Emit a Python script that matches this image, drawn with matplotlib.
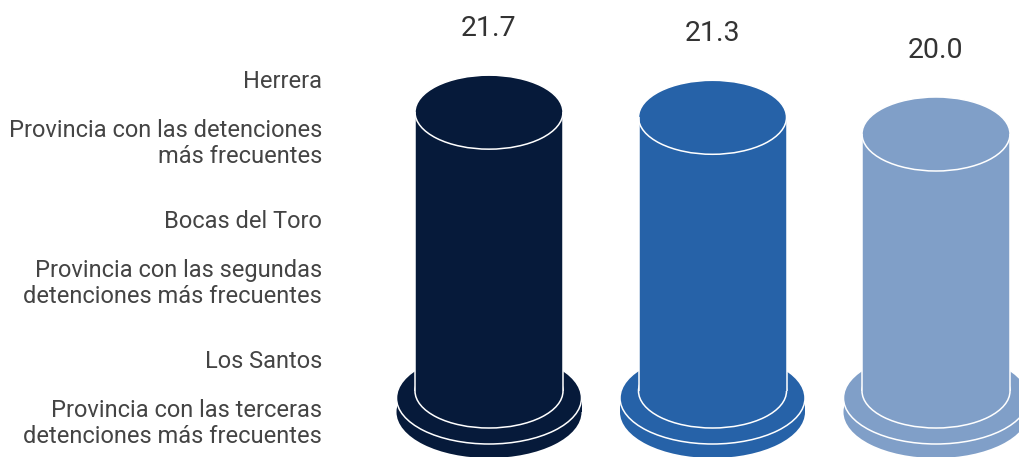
import matplotlib.pyplot as plt
from matplotlib.patches import Ellipse, Rectangle

plt.rcParams['font.family'] = ['Roboto', 'DejaVu Sans']

# datos
valores = [21.7, 21.3, 20.0]
colores = ['#061a3a', '#2662a8', '#809fc8']
provincias = ['Herrera', 'Bocas del Toro', 'Los Santos']
descripciones = [
    'Provincia con las detenciones\nmás frecuentes',
    'Provincia con las segundas\ndetenciones más frecuentes',
    'Provincia con las terceras\ndetenciones más frecuentes',
]

W, H = 1019, 457
fig = plt.figure(figsize=(W / 100, H / 100), dpi=100)
ax = fig.add_axes([0, 0, 1, 1])

# escala: 1 categoria = 223.5 px, 1 unidad = 12.85 px
px_x = 223.5
px_y = 12.85
x0 = 489
y0 = 391
ax.set_xlim(-x0 / px_x, (W - x0) / px_x)
ax.set_ylim(-(H - y0) / px_y, y0 / px_y)
ax.axis('off')

medio_ancho = 74 / px_x       # cuerpo del cilindro
medio_alto = 37 / px_y        # elipses del cuerpo
base_ancho = 92.5 / px_x      # disco de la base
base_alto = 46 / px_y
base_arriba = -7 / px_y
base_abajo = -21 / px_y
lw = 1.1

for i, (v, c) in enumerate(zip(valores, colores)):
    # disco de la base
    ax.add_patch(Ellipse((i, base_abajo), 2 * base_ancho, 2 * base_alto,
                         facecolor=c, edgecolor='none'))
    ax.add_patch(Rectangle((i - base_ancho, base_abajo), 2 * base_ancho,
                           base_arriba - base_abajo, facecolor=c, edgecolor='none'))
    ax.add_patch(Ellipse((i, base_arriba), 2 * base_ancho, 2 * base_alto,
                         facecolor=c, edgecolor='white', linewidth=lw))
    # cuerpo
    ax.add_patch(Ellipse((i, 0), 2 * medio_ancho, 2 * medio_alto,
                         facecolor=c, edgecolor='white', linewidth=lw))
    ax.add_patch(Rectangle((i - medio_ancho, 0), 2 * medio_ancho, v,
                           facecolor=c, edgecolor='none'))
    for s in (-1, 1):
        ax.plot([i + s * medio_ancho] * 2, [0, v], color='white', linewidth=lw,
                solid_capstyle='butt')
    ax.add_patch(Ellipse((i, v), 2 * medio_ancho, 2 * medio_alto,
                         facecolor=c, edgecolor='white', linewidth=lw))
    # valor
    ax.text(i, v + 84 / px_y, f'{v:.1f}', ha='center', va='center',
            fontsize=20.5, color='#333333')

# textos de la izquierda
y_prov = [82, 222, 362]
y_desc = [143.5, 283.5, 423.5]
for p, d, yp, yd in zip(provincias, descripciones, y_prov, y_desc):
    fig.text(322 / W, 1 - yp / H, p, ha='right', va='center',
             fontsize=17, color='#444444')
    fig.text(322 / W, 1 - yd / H, d, ha='right', va='center',
             fontsize=17, color='#444444', linespacing=1.15)

fig.savefig('out.png', dpi=100)
